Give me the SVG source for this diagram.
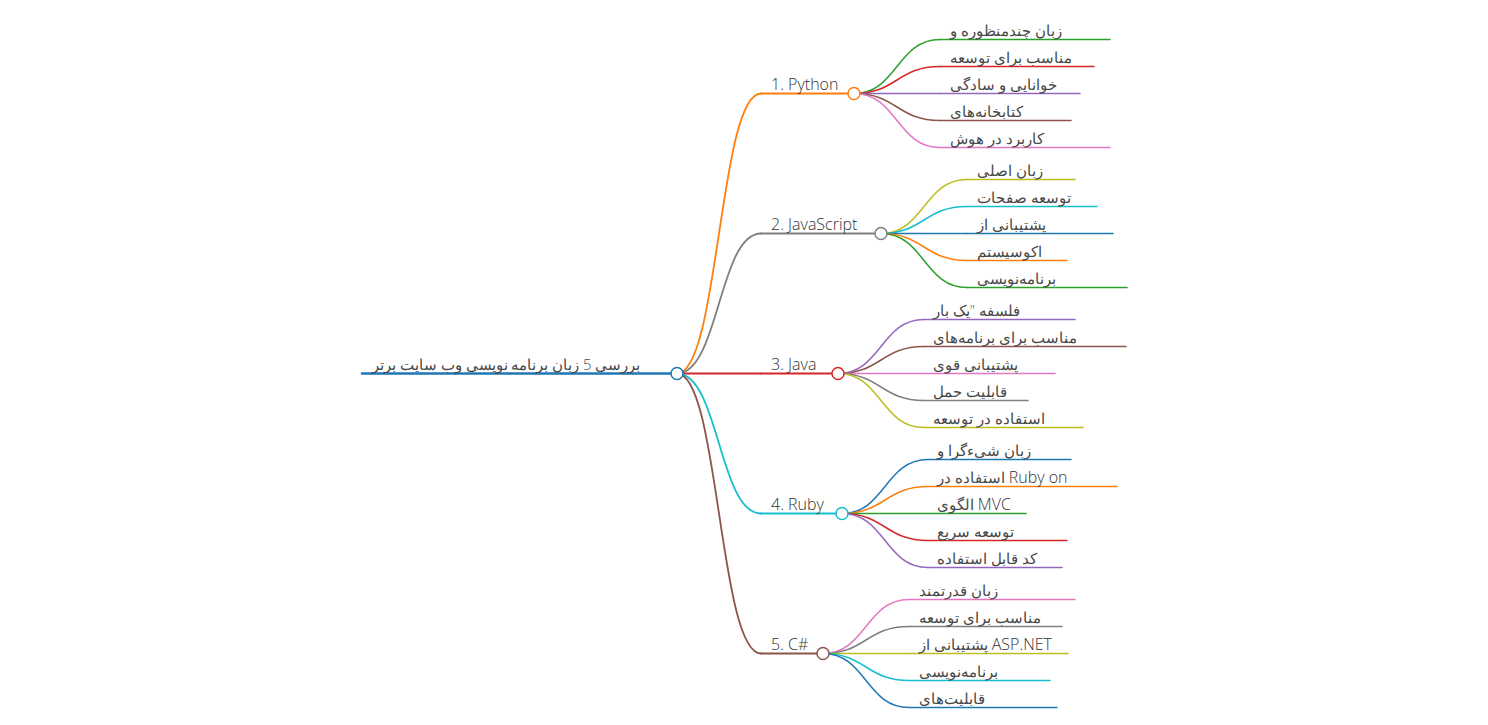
<svg xmlns="http://www.w3.org/2000/svg" width="1488" height="725" viewBox="0 0 1488 725">
<style>
text{font-family:"Open Sans","DejaVu Sans",sans-serif;font-weight:300;font-size:16px;fill:#333}
text.ar{font-size:14.8px;fill:#484848}
tspan.lat{font-size:16px;fill:#333}
.ln{fill:none;stroke-linecap:round}
.l0{stroke-width:2.5}
.l1{stroke-width:1.8}
.l2{stroke-width:1.5}
circle{fill:#fff;stroke-width:1.5}
</style>
<rect width="1488" height="725" fill="#fff"/>
<g id="connectors" class="ln">
<path class="l1" stroke="#ff7f0e" d="M677,373.5 C719,373.5 719,93.5 761,93.5"/>
<path class="l1" stroke="#7f7f7f" d="M677,373.5 C719,373.5 719,233.5 761,233.5"/>
<path class="l1" stroke="#d62728" d="M677,373.5 C719,373.5 719,373.5 761,373.5"/>
<path class="l1" stroke="#17becf" d="M677,373.5 C719,373.5 719,513.5 761,513.5"/>
<path class="l1" stroke="#8c564b" d="M677,373.5 C719,373.5 719,653.5 761,653.5"/>
<path class="l2" stroke="#2ca02c" d="M854,93.5 C897,93.5 897,39.5 940,39.5"/>
<path class="l2" stroke="#d62728" d="M854,93.5 C897,93.5 897,66.5 940,66.5"/>
<path class="l2" stroke="#9467bd" d="M854,93.5 C897,93.5 897,93.5 940,93.5"/>
<path class="l2" stroke="#8c564b" d="M854,93.5 C897,93.5 897,120.5 940,120.5"/>
<path class="l2" stroke="#e377c2" d="M854,93.5 C897,93.5 897,147.5 940,147.5"/>
<path class="l2" stroke="#bcbd22" d="M881,233.5 C924,233.5 924,179.5 967,179.5"/>
<path class="l2" stroke="#17becf" d="M881,233.5 C924,233.5 924,206.5 967,206.5"/>
<path class="l2" stroke="#1f77b4" d="M881,233.5 C924,233.5 924,233.5 967,233.5"/>
<path class="l2" stroke="#ff7f0e" d="M881,233.5 C924,233.5 924,260.5 967,260.5"/>
<path class="l2" stroke="#2ca02c" d="M881,233.5 C924,233.5 924,287.5 967,287.5"/>
<path class="l2" stroke="#9467bd" d="M838,373.5 C881,373.5 881,319.5 924,319.5"/>
<path class="l2" stroke="#8c564b" d="M838,373.5 C881,373.5 881,346.5 924,346.5"/>
<path class="l2" stroke="#e377c2" d="M838,373.5 C881,373.5 881,373.5 924,373.5"/>
<path class="l2" stroke="#7f7f7f" d="M838,373.5 C881,373.5 881,400.5 924,400.5"/>
<path class="l2" stroke="#bcbd22" d="M838,373.5 C881,373.5 881,427.5 924,427.5"/>
<path class="l2" stroke="#1f77b4" d="M842,513.5 C885,513.5 885,459.5 928,459.5"/>
<path class="l2" stroke="#ff7f0e" d="M842,513.5 C885,513.5 885,486.5 928,486.5"/>
<path class="l2" stroke="#2ca02c" d="M842,513.5 C885,513.5 885,513.5 928,513.5"/>
<path class="l2" stroke="#d62728" d="M842,513.5 C885,513.5 885,540.5 928,540.5"/>
<path class="l2" stroke="#9467bd" d="M842,513.5 C885,513.5 885,567.5 928,567.5"/>
<path class="l2" stroke="#e377c2" d="M823,653.5 C866,653.5 866,599.5 909,599.5"/>
<path class="l2" stroke="#7f7f7f" d="M823,653.5 C866,653.5 866,626.5 909,626.5"/>
<path class="l2" stroke="#bcbd22" d="M823,653.5 C866,653.5 866,653.5 909,653.5"/>
<path class="l2" stroke="#17becf" d="M823,653.5 C866,653.5 866,680.5 909,680.5"/>
<path class="l2" stroke="#1f77b4" d="M823,653.5 C866,653.5 866,707.5 909,707.5"/>
</g>
<g id="root">
<line class="ln l0" x1="362" y1="373.5" x2="677" y2="373.5" stroke="#1f77b4"/>
<circle cx="677" cy="373.5" r="6" stroke="#1f77b4"/>
<text class="ar" x="372" y="370">بررسی 5 زبان برنامه نویسی وب سایت برتر</text>
</g>
<g id="python">
<line class="ln l1" x1="761" y1="93.5" x2="854" y2="93.5" stroke="#ff7f0e"/>
<circle cx="854" cy="93.5" r="6" stroke="#ff7f0e"/>
<text x="771" y="90">1. Python</text>
</g>
<g id="py1"><line class="ln l2" x1="940" y1="39.5" x2="1110" y2="39.5" stroke="#2ca02c"/><text class="ar" x="950" y="36">زبان چندمنظوره و</text></g>
<g id="py2"><line class="ln l2" x1="940" y1="66.5" x2="1094" y2="66.5" stroke="#d62728"/><text class="ar" x="950" y="63">مناسب برای توسعه</text></g>
<g id="py3"><line class="ln l2" x1="940" y1="93.5" x2="1080" y2="93.5" stroke="#9467bd"/><text class="ar" x="950" y="90">خوانایی و سادگی</text></g>
<g id="py4"><line class="ln l2" x1="940" y1="120.5" x2="1071" y2="120.5" stroke="#8c564b"/><text class="ar" x="950" y="117">کتابخانه‌های</text></g>
<g id="py5"><line class="ln l2" x1="940" y1="147.5" x2="1110" y2="147.5" stroke="#e377c2"/><text class="ar" x="950" y="144">کاربرد در هوش</text></g>
<g id="javascript">
<line class="ln l1" x1="761" y1="233.5" x2="881" y2="233.5" stroke="#7f7f7f"/>
<circle cx="881" cy="233.5" r="6" stroke="#7f7f7f"/>
<text x="771" y="230">2. JavaScript</text>
</g>
<g id="js1"><line class="ln l2" x1="967" y1="179.5" x2="1075" y2="179.5" stroke="#bcbd22"/><text class="ar" x="977" y="176">زبان اصلی</text></g>
<g id="js2"><line class="ln l2" x1="967" y1="206.5" x2="1097" y2="206.5" stroke="#17becf"/><text class="ar" x="977" y="203">توسعه صفحات</text></g>
<g id="js3"><line class="ln l2" x1="967" y1="233.5" x2="1113" y2="233.5" stroke="#1f77b4"/><text class="ar" x="977" y="230">پشتیبانی از</text></g>
<g id="js4"><line class="ln l2" x1="967" y1="260.5" x2="1067" y2="260.5" stroke="#ff7f0e"/><text class="ar" x="977" y="257">اکوسیستم</text></g>
<g id="js5"><line class="ln l2" x1="967" y1="287.5" x2="1127" y2="287.5" stroke="#2ca02c"/><text class="ar" x="977" y="284">برنامه‌نویسی</text></g>
<g id="java">
<line class="ln l1" x1="761" y1="373.5" x2="838" y2="373.5" stroke="#d62728"/>
<circle cx="838" cy="373.5" r="6" stroke="#d62728"/>
<text x="771" y="370">3. Java</text>
</g>
<g id="jv1"><line class="ln l2" x1="924" y1="319.5" x2="1075" y2="319.5" stroke="#9467bd"/><text class="ar" x="933" y="316">فلسفه "یک بار</text></g>
<g id="jv2"><line class="ln l2" x1="924" y1="346.5" x2="1126" y2="346.5" stroke="#8c564b"/><text class="ar" x="933" y="343">مناسب برای برنامه‌های</text></g>
<g id="jv3"><line class="ln l2" x1="924" y1="373.5" x2="1055" y2="373.5" stroke="#e377c2"/><text class="ar" x="933" y="370">پشتیبانی قوی</text></g>
<g id="jv4"><line class="ln l2" x1="924" y1="400.5" x2="1028" y2="400.5" stroke="#7f7f7f"/><text class="ar" x="933" y="397">قابلیت حمل</text></g>
<g id="jv5"><line class="ln l2" x1="924" y1="427.5" x2="1083" y2="427.5" stroke="#bcbd22"/><text class="ar" x="933" y="424">استفاده در توسعه</text></g>
<g id="ruby">
<line class="ln l1" x1="761" y1="513.5" x2="842" y2="513.5" stroke="#17becf"/>
<circle cx="842" cy="513.5" r="6" stroke="#17becf"/>
<text x="771" y="510">4. Ruby</text>
</g>
<g id="rb1"><line class="ln l2" x1="928" y1="459.5" x2="1071" y2="459.5" stroke="#1f77b4"/><text class="ar" x="937" y="456">زبان شیءگرا و</text></g>
<g id="rb2"><line class="ln l2" x1="928" y1="486.5" x2="1117" y2="486.5" stroke="#ff7f0e"/><text class="ar" x="937" y="483">استفاده در <tspan class="lat">Ruby on</tspan></text></g>
<g id="rb3"><line class="ln l2" x1="928" y1="513.5" x2="1026" y2="513.5" stroke="#2ca02c"/><text class="ar" x="937" y="510">الگوی <tspan class="lat">MVC</tspan></text></g>
<g id="rb4"><line class="ln l2" x1="928" y1="540.5" x2="1067" y2="540.5" stroke="#d62728"/><text class="ar" x="937" y="537">توسعه سریع</text></g>
<g id="rb5"><line class="ln l2" x1="928" y1="567.5" x2="1062" y2="567.5" stroke="#9467bd"/><text class="ar" x="937" y="564">کد قابل استفاده</text></g>
<g id="csharp">
<line class="ln l1" x1="761" y1="653.5" x2="823" y2="653.5" stroke="#8c564b"/>
<circle cx="823" cy="653.5" r="6" stroke="#8c564b"/>
<text x="771" y="650">5. C#</text>
</g>
<g id="cs1"><line class="ln l2" x1="909" y1="599.5" x2="1075" y2="599.5" stroke="#e377c2"/><text class="ar" x="919" y="596">زبان قدرتمند</text></g>
<g id="cs2"><line class="ln l2" x1="909" y1="626.5" x2="1062" y2="626.5" stroke="#7f7f7f"/><text class="ar" x="919" y="623">مناسب برای توسعه</text></g>
<g id="cs3"><line class="ln l2" x1="909" y1="653.5" x2="1068" y2="653.5" stroke="#bcbd22"/><text class="ar" x="919" y="650">پشتیبانی از <tspan class="lat">ASP.NET</tspan></text></g>
<g id="cs4"><line class="ln l2" x1="909" y1="680.5" x2="1050" y2="680.5" stroke="#17becf"/><text class="ar" x="919" y="677">برنامه‌نویسی</text></g>
<g id="cs5"><line class="ln l2" x1="909" y1="707.5" x2="1057" y2="707.5" stroke="#1f77b4"/><text class="ar" x="919" y="704">قابلیت‌های</text></g>
</svg>
